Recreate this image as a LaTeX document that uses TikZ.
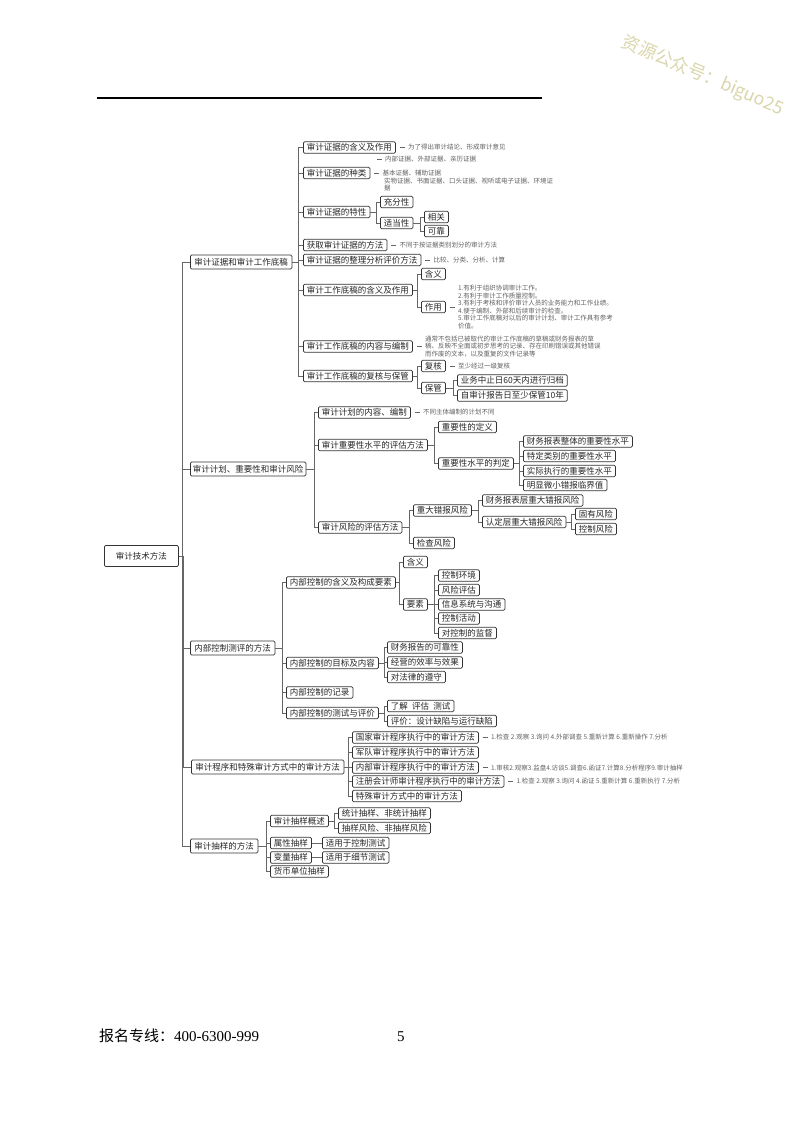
\documentclass[tikz,border=0pt]{standalone}
\usepackage{fontspec}
\setmainfont{Liberation Serif}
\newfontfamily\cjk{Noto Sans CJK SC}
\definecolor{wmcol}{RGB}{218,214,172}
\newcommand\mmkids[3]{\foreach \c in {#3}{\draw[ln] (#1.east) -| ([xshift=-#2pt]\c.west) -- (\c.west);}}
\newcommand\mmnote[3]{\draw[ln] ([xshift=4pt]#1.east) -- ([xshift=9pt]#1.east) node[note,anchor=west,xshift=3pt] (#2) {#3};}
\begin{document}
\begin{tikzpicture}[x=1pt,y=-1pt,
  box/.style={draw=black!80, line width=0.75pt, rounded corners=1.2pt, fill=white,
    font=\cjk\fontsize{8.5}{9}\selectfont, inner xsep=3.5pt, inner ysep=1.2pt,
    minimum height=11.5pt, anchor=west, text=black!85},
  lvone/.style={box, minimum height=14pt, inner xsep=4pt},
  rootbox/.style={box, minimum height=21pt, minimum width=74pt},
  note/.style={font=\cjk\fontsize{6.5}{7.5}\selectfont, text=black!62, anchor=west, inner sep=0pt, align=left},
  ln/.style={draw=black!60, line width=0.6pt}]
\useasboundingbox (0,0) rectangle (800,1124);
\fill[white] (0,0) rectangle (800,1124);

% header rule
\coordinate (r1) at (97,98);
\coordinate (r2) at (542,98);
\draw[line width=1.1pt] (r1) -- (r2);

% watermark
\node[rotate=-23, text=wmcol, font=\cjk\fontsize{17.8}{18}\selectfont, inner sep=0pt] (wm) at (703,76) {资源公众号：biguo25};

% root and level 1
\node[rootbox] (root) at (104,556) {审计技术方法};
\node[lvone] (a) at (190,262) {审计证据和审计工作底稿};
\node[lvone, inner xsep=2.5pt] (b) at (190,469) {审计计划、重要性和审计风险};
\node[lvone] (c) at (190,648) {内部控制测评的方法};
\node[lvone] (d) at (191,767) {审计程序和特殊审计方式中的审计方法};
\node[lvone] (e) at (190,846) {审计抽样的方法};
\mmkids{root}{8}{a,b,c,d,e}

% branch a
\node[box] (a1) at (303,147.5) {审计证据的含义及作用};
\node[box] (a2) at (303,173) {审计证据的种类};
\node[box] (a3) at (303,212) {审计证据的特性};
\node[box] (a4) at (303,245) {获取审计证据的方法};
\node[box] (a5) at (303,260) {审计证据的整理分析评价方法};
\node[box] (a6) at (303,290) {审计工作底稿的含义及作用};
\node[box] (a7) at (303,346.5) {审计工作底稿的内容与编制};
\node[box] (a8) at (303,376) {审计工作底稿的复核与保管};
\mmkids{a}{5}{a1,a2,a3,a4,a5,a6,a7,a8}

\node[box] (a31) at (380,202) {充分性};
\node[box] (a32) at (380,223) {适当性};
\mmkids{a3}{4}{a31,a32}
\node[box] (a321) at (424,217) {相关};
\node[box] (a322) at (424,231) {可靠};
\mmkids{a32}{4}{a321,a322}

\node[box] (a61) at (421,274) {含义};
\node[box] (a62) at (421,307) {作用};
\mmkids{a6}{4}{a61,a62}

\node[box] (a81) at (421,366) {复核};
\node[box] (a82) at (421,388) {保管};
\mmkids{a8}{4}{a81,a82}
\node[box] (a821) at (457,380.5) {业务中止日60天内进行归档};
\node[box] (a822) at (457,395.5) {自审计报告日至少保管10年};
\mmkids{a82}{4}{a821,a822}

% notes of branch a
\mmnote{a1}{na1}{为了得出审计结论、形成审计意见}
\node[note] (na21) at (385,159.5) {内部证据、外部证据、亲历证据};
\draw[ln] ([xshift=-8pt]na21.west) -- ([xshift=-3pt]na21.west);
\mmnote{a2}{na22}{基本证据、辅助证据}
\node[note] (na23) at (384,184.5) {实物证据、书面证据、口头证据、视听或电子证据、环境证\\据};
\mmnote{a4}{na4}{不同于按证据类别划分的审计方法}
\mmnote{a5}{na5}{比较、分类、分析、计算}
\mmnote{a62}{na62}{1.有利于组织协调审计工作。\\2.有利于审计工作质量控制。\\3.有利于考核和评价审计人员的业务能力和工作业绩。\\4.便于编制、外部和后续审计的检查。\\5.审计工作底稿对以后的审计计划、审计工作具有参考\\价值。}
\mmnote{a7}{na7}{通常不包括已被取代的审计工作底稿的草稿或财务报表的草\\稿、反映不全面或初步思考的记录、存在印刷错误或其他错误\\而作废的文本，以及重复的文件记录等}
\mmnote{a81}{na81}{至少经过一级复核}

% branch b
\node[box] (b1) at (318,412.5) {审计计划的内容、编制};
\node[box] (b2) at (318,445) {审计重要性水平的评估方法};
\node[box] (b3) at (318,527.5) {审计风险的评估方法};
\mmkids{b}{4}{b1,b2,b3}
\mmnote{b1}{nb1}{不同主体编制的计划不同}

\node[box] (b21) at (438,427) {重要性的定义};
\node[box] (b22) at (438,463.5) {重要性水平的判定};
\mmkids{b2}{4}{b21,b22}
\node[box] (b221) at (523,441.5) {财务报表整体的重要性水平};
\node[box] (b222) at (523,456) {特定类别的重要性水平};
\node[box] (b223) at (523,471) {实际执行的重要性水平};
\node[box] (b224) at (523,485) {明显微小错报临界值};
\mmkids{b22}{4}{b221,b222,b223,b224}

\node[box] (b31) at (413,510.5) {重大错报风险};
\node[box] (b32) at (413,543) {检查风险};
\mmkids{b3}{4}{b31,b32}
\node[box] (b311) at (482,500.5) {财务报表层重大错报风险};
\node[box] (b312) at (482,522) {认定层重大错报风险};
\mmkids{b31}{4}{b311,b312}
\node[box] (b3121) at (575,514) {固有风险};
\node[box] (b3122) at (575,529) {控制风险};
\mmkids{b312}{4}{b3121,b3122}

% branch c
\node[box] (c1) at (286,582.5) {内部控制的含义及构成要素};
\node[box] (c2) at (286,663) {内部控制的目标及内容};
\node[box] (c3) at (286,692.5) {内部控制的记录};
\node[box] (c4) at (286,713) {内部控制的测试与评价};
\mmkids{c}{4}{c1,c2,c3,c4}

\node[box] (c11) at (403,562) {含义};
\node[box] (c12) at (403,604.5) {要素};
\mmkids{c1}{4}{c11,c12}
\node[box] (c121) at (438,575.5) {控制环境};
\node[box] (c122) at (438,590) {风险评估};
\node[box] (c123) at (438,604.5) {信息系统与沟通};
\node[box] (c124) at (438,618.5) {控制活动};
\node[box] (c125) at (438,633) {对控制的监督};
\mmkids{c12}{4}{c121,c122,c123,c124,c125}

\node[box] (c21) at (387,647.5) {财务报告的可靠性};
\node[box] (c22) at (387,662.5) {经营的效率与效果};
\node[box] (c23) at (387,677) {对法律的遵守};
\mmkids{c2}{3}{c21,c22,c23}

\node[box] (c41) at (387,706) {了解\enspace 评估\enspace 测试};
\node[box] (c42) at (387,721) {评价：设计缺陷与运行缺陷};
\mmkids{c4}{3}{c41,c42}

% branch d
\node[box] (d1) at (352,737.5) {国家审计程序执行中的审计方法};
\node[box] (d2) at (352,752.5) {军队审计程序执行中的审计方法};
\node[box] (d3) at (352,767.5) {内部审计程序执行中的审计方法};
\node[box] (d4) at (352,781.5) {注册会计师审计程序执行中的审计方法};
\node[box] (d5) at (352,796) {特殊审计方式中的审计方法};
\mmkids{d}{4}{d1,d2,d3,d4,d5}
\mmnote{d1}{nd1}{1.检查 2.观察 3.询问 4.外部调查 5.重新计算 6.重新操作 7.分析}
\mmnote{d3}{nd3}{1.审核2.观察3.监盘4.访谈5.调查6.函证7.计算8.分析程序9.审计抽样}
\mmnote{d4}{nd4}{1.检查 2.观察 3.询问 4.函证 5.重新计算 6.重新执行 7.分析}

% branch e
\node[box] (e1) at (270,821) {审计抽样概述};
\node[box] (e2) at (270,843) {属性抽样};
\node[box] (e3) at (270,857.5) {变量抽样};
\node[box] (e4) at (270,871.5) {货币单位抽样};
\mmkids{e}{4}{e1,e2,e3,e4}
\node[box] (e11) at (338,813.5) {统计抽样、非统计抽样};
\node[box] (e12) at (338,828) {抽样风险、非抽样风险};
\mmkids{e1}{4}{e11,e12}
\node[box] (e21) at (322,843) {适用于控制测试};
\mmkids{e2}{4}{e21}
\node[box] (e31) at (322,857.5) {适用于细节测试};
\mmkids{e3}{4}{e31}

% footer
\node[anchor=base west, inner sep=0pt, font=\fontsize{15}{15}\selectfont] (ft) at (99,1041) {{\cjk 报名专线：}400-6300-999};
\node[anchor=base west, inner sep=0pt, font=\fontsize{15}{15}\selectfont] (pg) at (397,1041) {5};
\end{tikzpicture}
\end{document}
